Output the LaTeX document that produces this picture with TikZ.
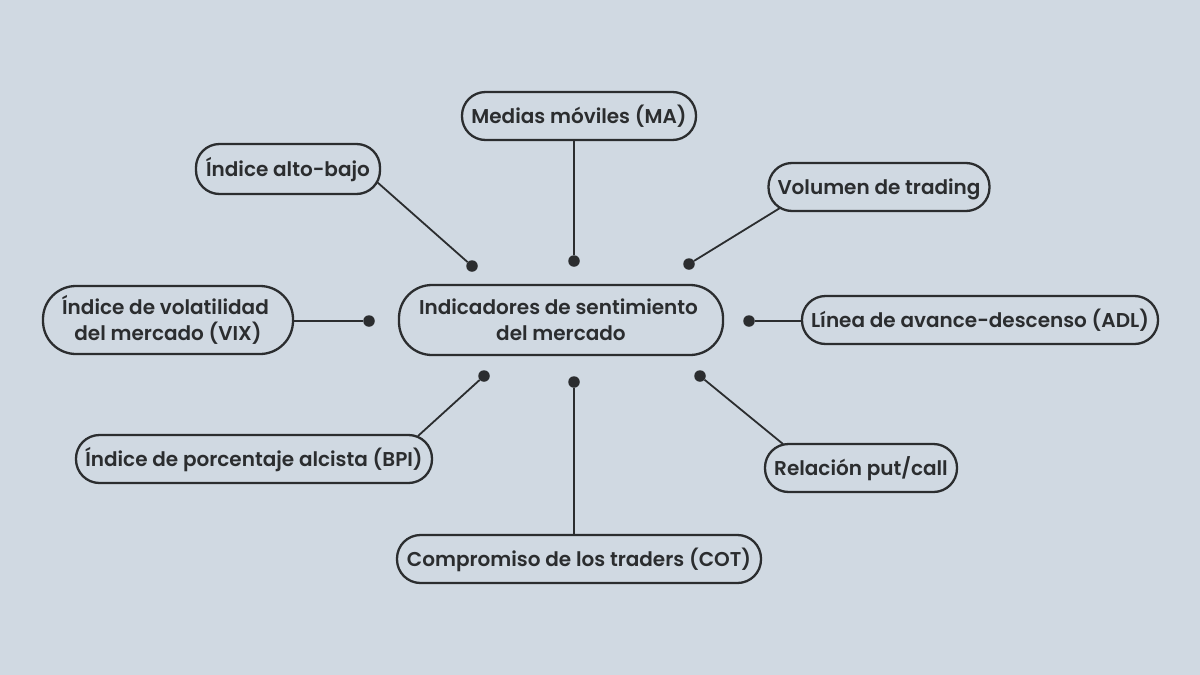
\documentclass[tikz,border=0pt]{standalone}
\usepackage{fontspec}
\setmainfont{Poppins}[UprightFont=* SemiBold]
\definecolor{bgcol}{HTML}{D0D9E2}
\definecolor{inkcol}{HTML}{2B2D2F}
\tikzset{
	pill/.style={draw=inkcol,line width=2.3pt,rounded corners=23.5pt,align=center,text=inkcol,
		font=\fontsize{20}{26}\selectfont,inner sep=0pt},
	onepill/.style={pill,minimum height=48pt,text height=17pt,text depth=3pt},
	bigpill/.style={pill,rounded corners=33pt},
	link/.style={draw=inkcol,line width=1.8pt},
	dot/.style={circle,fill=inkcol,inner sep=0pt,minimum size=11.5pt}
}
\begin{document}
\begin{tikzpicture}[x=1pt,y=-1pt]
\fill[bgcol] (0,0) rectangle (1200,675);
\useasboundingbox (0,0) rectangle (1200,675);
\node[bigpill,minimum width=324pt,minimum height=70pt] (main) at (561,320) {Indicadores de sentimiento\hspace*{5pt}\\del mercado};
\node[onepill,minimum width=234pt] (ma) at (579,116) {Medias móviles (MA)};
\node[onepill,minimum width=184pt,minimum height=50pt] (hl) at (288,169) {Índice alto-bajo};
\node[onepill,minimum width=221pt] (vol) at (879,187) {Volumen de trading};
\node[bigpill,minimum width=250pt,minimum height=68pt] (vix) at (168,320) {Índice de volatilidad\hspace*{5pt}\\del mercado (VIX)};
\node[onepill,minimum width=356pt] (adl) at (980,320) {Línea de avance-descenso (ADL)};
\node[onepill,minimum width=356pt] (bpi) at (254,459) {Índice de porcentaje alcista (BPI)};
\node[onepill,minimum width=192pt] (pc) at (861,468) {Relación put/call};
\node[onepill,minimum width=364pt] (cot) at (579,559) {Compromiso de los traders (COT)};
\node[dot] (dma) at (574,261) {};
\node[dot] (dhl) at (472,266) {};
\node[dot] (dvol) at (689,264) {};
\node[dot] (dvix) at (369,321) {};
\node[dot] (dadl) at (749,321) {};
\node[dot] (dbpi) at (484,376) {};
\node[dot] (dpc) at (700,376) {};
\node[dot] (dcot) at (574,382) {};
\coordinate (ema) at (574,140);
\coordinate (ehl) at (377,182);
\coordinate (evol) at (780,208);
\coordinate (evix) at (293,321);
\coordinate (eadl) at (802,321);
\coordinate (ebpi) at (418,436);
\coordinate (epc) at (783,444);
\coordinate (ecot) at (574,535);
\draw[link] (ema) -- (dma);
\draw[link] (ehl) -- (dhl);
\draw[link] (evol) -- (dvol);
\draw[link] (evix) -- (dvix);
\draw[link] (eadl) -- (dadl);
\draw[link] (ebpi) -- (dbpi);
\draw[link] (epc) -- (dpc);
\draw[link] (ecot) -- (dcot);
\end{tikzpicture}
\end{document}
